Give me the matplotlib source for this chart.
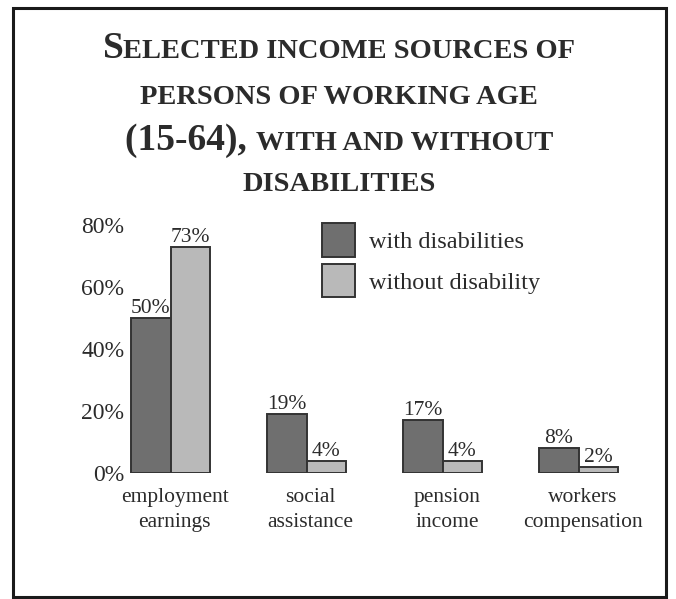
import matplotlib
matplotlib.use('Agg')
import matplotlib.pyplot as plt
from matplotlib.patches import Rectangle
import numpy as np

CATEGORIES = ['employment\nearnings', 'social\nassistance', 'pension\nincome',
              'workers\ncompensation']
WITH_DIS = [50, 19, 17, 8]
WITHOUT_DIS = [73, 4, 4, 2]
SERIES = ['with disabilities', 'without disability']
YTICKS = [0, 20, 40, 60, 80]
# title lines as (text, big-size?) segments, drawn as small caps
TITLE = [
    [('S', True), ('ELECTED INCOME SOURCES OF', False)],
    [('PERSONS OF WORKING AGE', False)],
    [('(15-64), ', True), ('WITH AND WITHOUT', False)],
    [('DISABILITIES', False)],
]

INK = '#2b2b2b'
DARK, LIGHT, EDGE = '#6f6f6f', '#b9b9b9', '#333333'
SERIF = ['Liberation Serif', 'DejaVu Serif']
W, H = 676, 599

plt.rcParams.update({'font.family': SERIF, 'text.color': INK})
fig = plt.figure(figsize=(W / 100, H / 100), dpi=100)

# outer frame of the scanned box
fig.add_artist(Rectangle((13 / W, 1 - 597 / H), 653 / W, 589 / H,
                         transform=fig.transFigure, fill=False,
                         ec='#1a1a1a', lw=2.2))

# title in small caps, each line assembled from segments and centred
renderer = fig.canvas.get_renderer()
line_y = [58, 104, 150, 191]   # baselines, px from top
for segs, yp in zip(TITLE, line_y):
    texts = []
    for s, big in segs:
        t = fig.text(0, 1 - yp / H, s, fontsize=27 if big else 20.5,
                     fontweight='bold', color=INK, va='baseline')
        texts.append(t)
    widths = [t.get_window_extent(renderer).width for t in texts]
    x0 = 339 - sum(widths) / 2
    for t, w in zip(texts, widths):
        t.set_x(x0 / W)
        x0 += w

# bars
x_left, x_right, y0, y_top = 127, 640, 473, 209.5
ax = fig.add_axes([x_left / W, 1 - y0 / H, (x_right - x_left) / W,
                   (y0 - y_top) / H])
x = np.arange(len(CATEGORIES))
bw = 0.29
b1 = ax.bar(x - bw / 2, WITH_DIS, bw, color=DARK, edgecolor=EDGE, lw=1.4)
b2 = ax.bar(x + bw / 2, WITHOUT_DIS, bw, color=LIGHT, edgecolor=EDGE, lw=1.4)
for bars in (b1, b2):
    for r in bars:
        ax.annotate(f'{r.get_height():.0f}%',
                    (r.get_x() + r.get_width() / 2, r.get_height()),
                    xytext=(0, 0), textcoords='offset points',
                    ha='center', va='bottom', fontsize=15.5, color=INK)
ax.set_xlim(-0.32, 3.45)
ax.set_ylim(0, 85)
ax.set_yticks(YTICKS)
ax.set_yticklabels([f'{v}%' for v in YTICKS], fontsize=17, color=INK)
ax.set_xticks(x + 0.03)
ax.set_xticklabels(CATEGORIES, fontsize=15.5, color=INK, linespacing=1.42)
ax.tick_params(length=0, pad=2)
ax.tick_params(axis='x', pad=11)
for s in ax.spines.values():
    s.set_visible(False)

# legend, anchored at the top-left of the first swatch
fig.legend([b1[0], b2[0]], SERIES, loc='upper left',
           bbox_to_anchor=(322 / W, 1 - 223 / H),
           bbox_transform=fig.transFigure, borderaxespad=0, borderpad=0,
           frameon=False, fontsize=17.5, handlelength=1.35, handleheight=1.75,
           handletextpad=0.6, labelspacing=0.3)

fig.savefig('out.png', dpi=100, facecolor='white')
